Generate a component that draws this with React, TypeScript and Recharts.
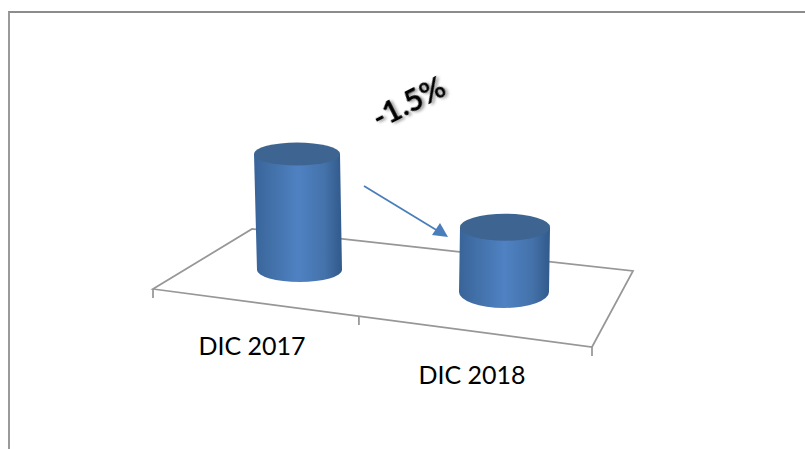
import { Bar, BarChart, Cell, XAxis, YAxis, usePlotArea } from "recharts";

const categories = ["DIC 2017", "DIC 2018"];
const values = [100, 98.5];
const changeLabel = "-1.5%";

// the source is a fake-3D chart, so each column sits somewhere else on the tilted floor
const perspective = [
  { dx: 34, dy: 0, topRy: 11.5, baseRy: 12, topW: 86, baseW: 85, baseShift: 2.5, labelDx: -11, labelDy: 107 },
  { dx: 22, dy: 22, topRy: 13.5, baseRy: 16, topW: 90, baseW: 90, baseShift: -1, labelDx: -11, labelDy: 136 },
];

const data = categories.map((name, i) => ({ name, value: values[i] }));

function Cylinder(props: any) {
  const { x, y, width, height, index } = props;
  const p = perspective[index];
  const cx = x + width / 2 + p.dx;
  const topY = y + p.dy;
  const baseY = y + height + p.dy;
  const bx = cx + p.baseShift;
  const tr = p.topW / 2;
  const br = p.baseW / 2;
  return (
    <g>
      <path
        d={`M${cx - tr},${topY} L${bx - br},${baseY} A${br},${p.baseRy} 0 0 0 ${bx + br},${baseY} L${cx + tr},${topY} Z`}
        fill="url(#cylSide)"
      />
      <ellipse cx={cx} cy={topY} rx={tr} ry={p.topRy} fill="#3e6591" />
    </g>
  );
}

function CategoryTick(props: any) {
  const { x, y, payload, index } = props;
  const p = perspective[index];
  return (
    <text
      x={x + p.labelDx}
      y={y + p.labelDy - 30}
      textAnchor="middle"
      fontFamily="Lato, Carlito, sans-serif"
      fontSize={25}
      fill="#000"
    >
      {payload.value}
    </text>
  );
}

// floor plane + its tick marks, hung off the plot area so it follows the x band
function Floor() {
  const area = usePlotArea();
  if (!area) return null;
  const left = area.x;
  const right = area.x + area.width;
  const mid = left + area.width * 0.468;
  const floor = `${left},289 ${right - 1},347 633,271 252,229`;
  return (
    <g stroke="#979797" fill="none" strokeWidth={1.75}>
      <polygon points={floor} />
      <line x1={left} y1={289} x2={left} y2={298} />
      <line x1={mid} y1={317} x2={mid} y2={325} />
      <line x1={right - 1} y1={347} x2={right - 1} y2={356} />
    </g>
  );
}

function ChangeNote() {
  return (
    <g>
      <line x1={364} y1={186} x2={438} y2={231} stroke="#4a7ebb" strokeWidth={1.75} />
      <polygon points="448,237 432,235 440,223" fill="#4a7ebb" />
      <text
        x={409}
        y={113}
        textAnchor="middle"
        transform="rotate(-27 409 103)"
        fontFamily="Lato, Carlito, sans-serif"
        fontWeight={700}
        fontSize={30}
        fill="#000"
        style={{ filter: "drop-shadow(2px 2px 1.5px rgba(0,0,0,0.4))" }}
      >
        {changeLabel}
      </text>
    </g>
  );
}

export default function App() {
  return (
    <div style={{ position: "absolute", left: 0, top: 0, width: 805, height: 449, background: "#fff", overflow: "hidden" }}>
      <div
        style={{
          position: "absolute",
          left: 8,
          top: 11,
          width: 797,
          height: 438,
          borderTop: "2px solid #8c8c8c",
          borderLeft: "2px solid #9a9a9a",
          boxSizing: "border-box",
        }}
      />
      <div style={{ position: "absolute", left: 0, top: 0 }}>
        <BarChart
          width={805}
          height={449}
          data={data}
          margin={{ top: 154, right: 212, bottom: 149, left: 153 }}
          barCategoryGap={0}
        >
          <defs>
            <linearGradient id="cylSide" x1="0" x2="1" y1="0" y2="0">
              <stop offset="0%" stopColor="#38649a" />
              <stop offset="20%" stopColor="#4270a8" />
              <stop offset="50%" stopColor="#4f82c3" />
              <stop offset="80%" stopColor="#4472aa" />
              <stop offset="100%" stopColor="#315a8c" />
            </linearGradient>
          </defs>
          <Floor />
          <XAxis dataKey="name" axisLine={false} tickLine={false} height={30} interval={0} tick={<CategoryTick />} />
          <YAxis hide domain={[96.6, 100]} />
          <Bar dataKey="value" barSize={86} shape={<Cylinder />} isAnimationActive={false}>
            {data.map((d) => (
              <Cell key={d.name} fill="#4f81bd" />
            ))}
          </Bar>
          <ChangeNote />
        </BarChart>
      </div>
    </div>
  );
}
